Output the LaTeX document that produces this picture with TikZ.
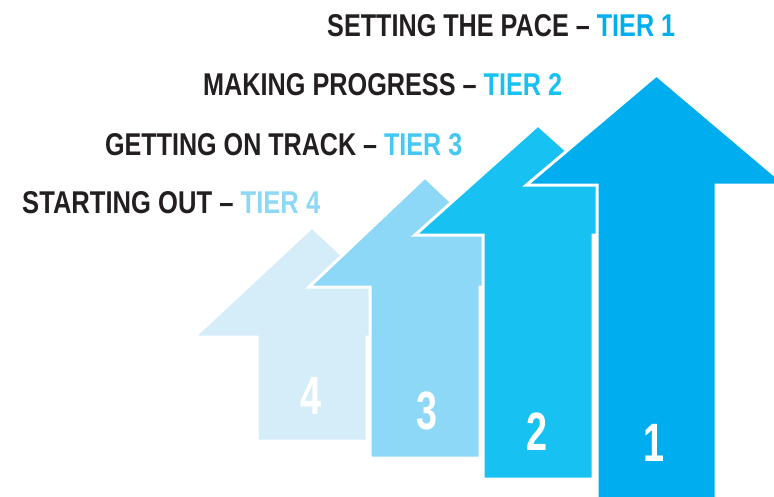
\documentclass[tikz,border=0pt]{standalone}
\usepackage{fontspec}
\setmainfont{Liberation Sans}
\usepackage{xcolor}
\usetikzlibrary{positioning}

\definecolor{tierone}{HTML}{00AEEF}
\definecolor{tiertwo}{HTML}{17C2F2}
\definecolor{tierthree}{HTML}{8ED8F7}
\definecolor{tierfour}{HTML}{D5EDF9}
\definecolor{tierthreetxt}{HTML}{44C8F5}
\definecolor{inkblack}{HTML}{231F20}

% one heading line: width, black part, colour, tier part
\newcommand{\tierline}[4]{\resizebox{#1}{22pt}{\bfseries\color{inkblack}#2 -- \color{#3}#4}}
\newcommand{\tiernum}[1]{\scalebox{0.7}[1]{\fontsize{54}{54}\selectfont\bfseries #1}}

\begin{document}
\begin{tikzpicture}[
  x=1pt, y=-1pt,
  arrowshape/.style={line width=3pt, draw=white, line join=miter},
  heading/.style={anchor=south west, inner sep=0pt},
  numlabel/.style={text=white, inner sep=0pt}
]
\useasboundingbox (0,0) rectangle (774,496);
\clip (0,0) rectangle (774,496);

% Arrows, back to front: centre/apex/head half-width/shaft half-width/bottom/colour
\foreach \cx/\ap/\hw/\sw/\bot/\col in {
  312/227/118/55/441/tierfour,
  425/177/116/55/458/tierthree,
  538/125/123/55/479/tiertwo,
  656.5/75/130/59.5/510/tierone} {
  \filldraw[arrowshape, fill=\col] (\cx,\ap) -- ({\cx+\hw},{\ap+110}) -- ({\cx+\sw},{\ap+110})
    -- ({\cx+\sw},\bot) -- ({\cx-\sw},\bot) -- ({\cx-\sw},{\ap+110})
    -- ({\cx-\hw},{\ap+110}) -- cycle;
}

% Numbers
\node[numlabel] (n4) at (311,396) {\tiernum{4}};
\node[numlabel] (n3) at (427,411) {\tiernum{3}};
\node[numlabel] (n2) at (537,432) {\tiernum{2}};
\node[numlabel] (n1) at (654,443) {\tiernum{1}};

% Headings
\node[heading] (t1) at (327,37) {\tierline{348pt}{SETTING THE PACE}{tierone}{TIER 1}};
\node[heading] (t2) at (203,96) {\tierline{359pt}{MAKING PROGRESS}{tiertwo}{TIER 2}};
\node[heading] (t3) at (105,156) {\tierline{357pt}{GETTING ON TRACK}{tierthreetxt}{TIER 3}};
\node[heading] (t4) at (22,214) {\tierline{298pt}{STARTING OUT}{tierthree}{TIER 4}};

\end{tikzpicture}
\end{document}
